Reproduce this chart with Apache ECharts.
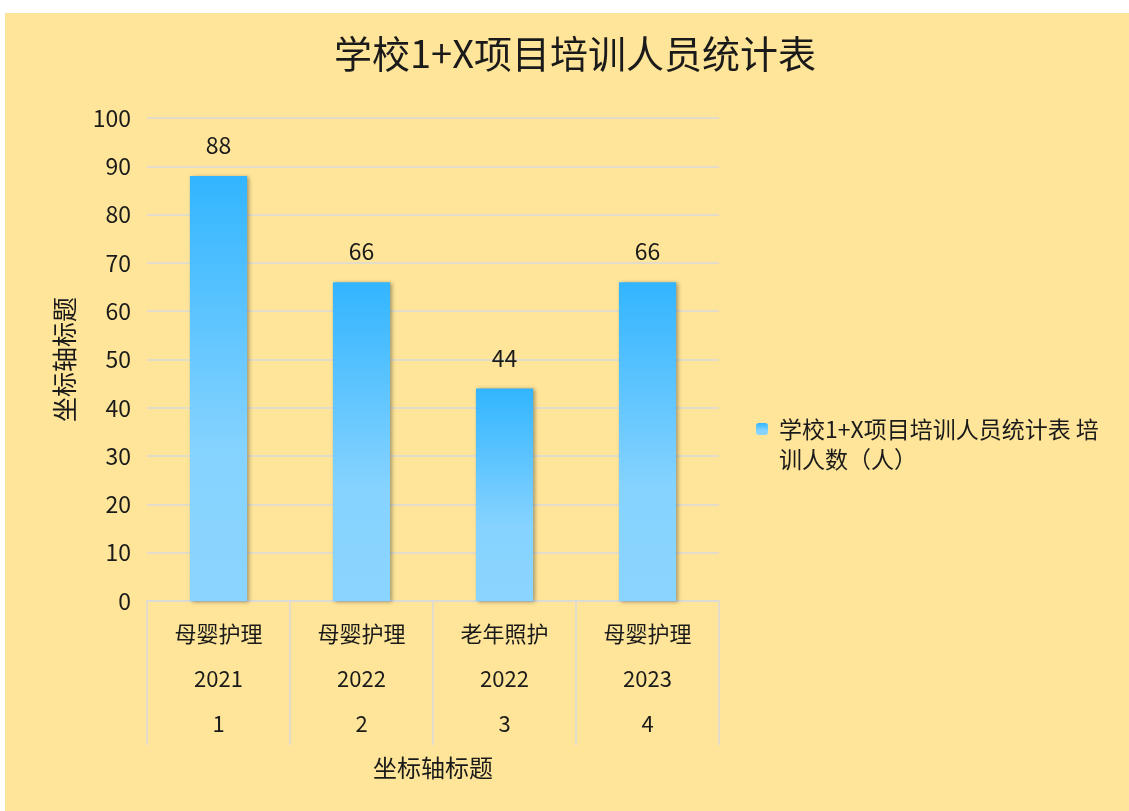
<!DOCTYPE html>
<html>
<head>
<meta charset="utf-8">
<script src="https://cdn.jsdelivr.net/npm/echarts@6/dist/echarts.min.js"></script>
<style>
  html, body { margin: 0; padding: 0; background: #fff; }
  #echarts { position: absolute; left: 5px; top: 13px; width: 1124px; height: 798px; }
</style>
</head>
<body>
<div id="echarts"></div>
<script>
// 数据
var arr_project = ['母婴护理', '母婴护理', '老年照护', '母婴护理'];
var arr_year = ['2021', '2022', '2022', '2023'];
var arr_no = ['1', '2', '3', '4'];
var arr_count = [88, 66, 44, 66];
var seriesName = '学校1+X项目培训人员统计表 培训人数（人）';
var yTicks = { min: 0, max: 100, interval: 10 };

var font = '"Noto Sans CJK SC", "Microsoft YaHei", sans-serif';

showData();

function showData(){
    var categories = arr_no.map(function(n, i){ return i; });
    var barColor = new echarts.graphic.LinearGradient(0, 0, 0, 1, [
        { offset: 0, color: '#32B5FF' },
        { offset: 0.65, color: '#86D3FF' },
        { offset: 1, color: '#8AD5FF' }
    ]);

    let myChart = echarts.init(document.getElementById('echarts'));
    var option = {
        backgroundColor: '#FFE599',
        textStyle: { fontFamily: font },
        title: {
            text: '学校1+X项目培训人员统计表',
            left: 565,
            textAlign: 'center',
            top: 17,
            textStyle: { fontSize: 38, fontWeight: 'normal', color: '#1a1a1a', fontFamily: font }
        },
        legend: {
            left: 746,
            top: 366,
            orient: 'vertical',
            itemWidth: 12,
            itemHeight: 12,
            // 空的第一行，让图标对齐第一行文字
            formatter: function(name){ return '\n' + name.slice(0, 16) + '\n' + name.slice(16); },
            textStyle: { fontSize: 23, lineHeight: 30, color: '#1a1a1a', padding: [0, 0, 0, 6], fontFamily: font },
            data: [seriesName]
        },
        grid: {
            left: 142,
            right: 410,
            top: 105,
            bottom: 210
        },
        xAxis: [{
            type: 'category',
            data: categories,
            boundaryGap: true,
            name: '坐标轴标题',
            nameLocation: 'middle',
            nameGap: 155,
            nameTextStyle: { fontSize: 24, color: '#1a1a1a', fontFamily: font },
            axisLine: { lineStyle: { color: '#D9D9D9', width: 1.5 } },
            axisTick: { show: true, length: 144, interval: 0, lineStyle: { color: '#D9D9D9', width: 1.5 } },
            axisLabel: {
                interval: 0,
                margin: 10,
                fontSize: 22,
                lineHeight: 45,
                color: '#1a1a1a',
                formatter: function(v, i){ return arr_project[i] + '\n' + arr_year[i] + '\n' + arr_no[i]; }
            }
        }],
        yAxis: [{
            type: 'value',
            min: yTicks.min,
            max: yTicks.max,
            interval: yTicks.interval,
            name: '坐标轴标题',
            nameLocation: 'middle',
            nameGap: 70,
            nameTextStyle: { fontSize: 25, color: '#1a1a1a', fontFamily: font },
            axisLine: { show: false },
            axisTick: { show: false },
            axisLabel: { fontSize: 23, color: '#1a1a1a', margin: 16 },
            splitLine: { lineStyle: { color: '#D9D9D9', width: 1.5 } }
        }],
        series: [{
            name: seriesName,
            type: 'bar',
            data: arr_count,
            barWidth: '40%',
            itemStyle: {
                color: barColor,
                shadowColor: 'rgba(0,0,0,0.35)',
                shadowBlur: 4,
                shadowOffsetX: 2,
                shadowOffsetY: 1
            },
            label: {
                show: true,
                position: 'top',
                distance: 19,
                fontSize: 23,
                color: '#1a1a1a'
            }
        }]
    };
    myChart.setOption(option);
}
</script>
</body>
</html>
